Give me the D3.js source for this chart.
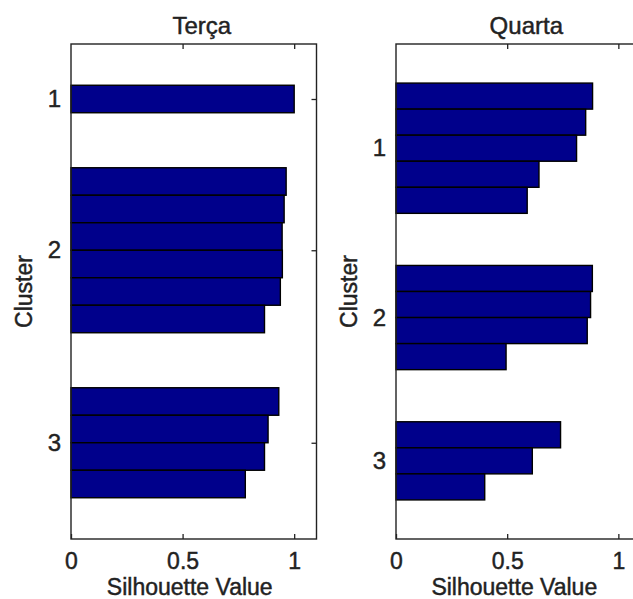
<!DOCTYPE html>
<html>
<head>
<meta charset="utf-8">
<script src="https://cdn.jsdelivr.net/npm/d3@7"></script>
<style>
  html, body { margin: 0; padding: 0; background: #fff; }
  svg { display: block; font-family: "Liberation Sans", Arial, sans-serif; }
  svg text { stroke: #222; stroke-width: 0.45px; }
</style>
</head>
<body>
<svg id="chart" width="633" height="599"></svg>
<script>
// Silhouette values per cluster, one array per day
const titles = ["Terça", "Quarta"];
const tercaClusters = [
  [1.00],
  [0.964, 0.955, 0.946, 0.947, 0.938, 0.867],
  [0.931, 0.883, 0.867, 0.781]
];
const quartaClusters = [
  [0.884, 0.853, 0.812, 0.643, 0.590],
  [0.883, 0.875, 0.860, 0.495],
  [0.740, 0.613, 0.399]
];
const clusterLabels = ["1", "2", "3"];
const xTicks = [0, 0.5, 1];
const xTickLabels = ["0", "0.5", "1"];
const xDomain = [0, 1.1];
const gapRows = 2;   // empty rows between clusters

const panels = [
  { title: titles[0], clusters: tercaClusters, left: 71, width: 245.5 },
  { title: titles[1], clusters: quartaClusters, left: 396, width: 244.6 }
];
const plotTop = 44, plotBottom = 539;

const svg = d3.select("#chart");
const barColor = "#00008b";

panels.forEach(p => {
  // lay out rows: gap, cluster, gap, cluster, ..., gap
  const rows = [];
  const centers = [];
  let idx = gapRows;
  p.clusters.forEach(vals => {
    const start = idx;
    vals.forEach(v => { rows.push({ i: idx, v: v }); idx++; });
    centers.push((start + idx - 1) / 2);
    idx += gapRows;
  });
  const nRows = idx;          // total row slots incl. trailing gap
  const y = d3.scaleLinear().domain([0, nRows - 1]).range([plotTop, plotBottom]);
  const rowH = y(1) - y(0);
  const x = d3.scaleLinear().domain(xDomain).range([p.left, p.left + p.width]);

  const g = svg.append("g");

  // bars
  g.selectAll("rect.bar").data(rows).enter().append("rect")
    .attr("class", "bar")
    .attr("x", x(0))
    .attr("y", d => y(d.i) - rowH / 2)
    .attr("width", d => x(d.v) - x(0))
    .attr("height", rowH)
    .attr("fill", barColor)
    .attr("stroke", "#000")
    .attr("stroke-width", 1.4);

  // axes box
  g.append("rect")
    .attr("x", x(0)).attr("y", plotTop)
    .attr("width", x(xDomain[1]) - x(0)).attr("height", plotBottom - plotTop)
    .attr("fill", "none").attr("stroke", "#222").attr("stroke-width", 1.4);

  const tickLen = 5;
  // bottom and top x ticks (inward)
  const xAxisB = d3.axisBottom(x).tickValues(xTicks).tickSize(-tickLen)
    .tickFormat((d, i) => xTickLabels[i]).tickPadding(14);
  const gx = g.append("g").attr("transform", `translate(0,${plotBottom})`).call(xAxisB);
  gx.select(".domain").remove();
  gx.selectAll(".tick line").attr("stroke", "#222").attr("stroke-width", 1.3);
  gx.selectAll(".tick text").attr("font-size", 23).attr("fill", "#222")
    .attr("font-family", "Liberation Sans, Arial, sans-serif");

  const xAxisT = d3.axisTop(x).tickValues(xTicks.filter(t => t > 0)).tickSize(-tickLen).tickFormat("");
  const gxt = g.append("g").attr("transform", `translate(0,${plotTop})`).call(xAxisT);
  gxt.select(".domain").remove();
  gxt.selectAll(".tick line").attr("stroke", "#222").attr("stroke-width", 1.3);

  // y ticks at cluster centres (label on left, mark on right side)
  const yAxisL = d3.axisLeft(y).tickValues(centers).tickSize(0)
    .tickFormat((d, i) => clusterLabels[i]).tickPadding(10);
  const gy = g.append("g").attr("transform", `translate(${x(0)},0)`).call(yAxisL);
  gy.select(".domain").remove();
  gy.selectAll(".tick text").attr("font-size", 24).attr("fill", "#222")
    .attr("font-family", "Liberation Sans, Arial, sans-serif");

  const yAxisR = d3.axisRight(y).tickValues(centers).tickSize(-tickLen).tickFormat("");
  const gyr = g.append("g").attr("transform", `translate(${x(xDomain[1])},0)`).call(yAxisR);
  gyr.select(".domain").remove();
  gyr.selectAll(".tick line").attr("stroke", "#222").attr("stroke-width", 1.3);

  // title
  g.append("text")
    .attr("x", (x(0) + x(xDomain[1])) / 2 + 8)
    .attr("y", 34)
    .attr("text-anchor", "middle")
    .attr("font-size", 24)
    .attr("fill", "#222")
    .text(p.title);

  // x label
  g.append("text")
    .attr("x", (x(0) + x(xDomain[1])) / 2 - 4)
    .attr("y", 595)
    .attr("text-anchor", "middle")
    .attr("font-size", 23)
    .attr("fill", "#222")
    .text("Silhouette Value");

  // y label
  g.append("text")
    .attr("transform", `translate(${x(0) - 39},${(plotTop + plotBottom) / 2}) rotate(-90)`)
    .attr("text-anchor", "middle")
    .attr("font-size", 23)
    .attr("fill", "#222")
    .text("Cluster");
});
</script>
</body>
</html>
